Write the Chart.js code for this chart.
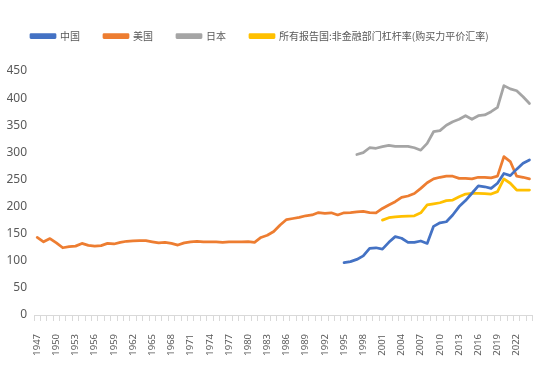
<!DOCTYPE html>
<html>
<head>
<meta charset="utf-8">
<script src="https://cdn.jsdelivr.net/npm/chart.js@4"></script>
<style>
  html, body { margin: 0; padding: 0; background: #fff; }
  #wrap { width: 554px; height: 366px; }
</style>
</head>
<body>
<div id="wrap"><canvas id="graphique"></canvas></div>
<script>
// Années 1947 à 2024
const annees = [];
for (let a = 1947; a <= 2024; a++) annees.push(String(a));

// Noms des séries (légende)
const nomsSeries = ["中国", "美国", "日本", "所有报告国:非金融部门杠杆率(购买力平价汇率)"];

// Etats-Unis, 1947-2024
const valeursUS = [
  143, 135, 141,                                        // 1947-1949
  133, 124, 126, 127, 132, 128.5, 127, 128, 132, 131,   // 1950-1959
  134, 136, 136.5, 137, 137, 135, 133, 134, 132, 129,   // 1960-1969
  133, 135, 136, 135, 135, 135, 134, 135, 135, 135,     // 1970-1979
  135.5, 134, 143, 147, 154, 166, 176, 178, 180, 183,   // 1980-1989
  184.5, 189, 187.5, 188.5, 184.5, 188.5, 189, 190, 191, 189, // 1990-1999
  188.5, 196.5, 203, 209, 217, 219.5, 224, 233.5, 244, 251,   // 2000-2009
  254, 256, 256, 252, 252, 251, 254, 254, 253, 256,     // 2010-2019
  292, 283, 256, 254, 251                               // 2020-2024
];

// Chine, à partir de 1995
const valeursChine = [
  96.5, 98.5, 102.5, 109, 123,                          // 1995-1999
  124, 121.5, 134, 144.5, 141.5, 134, 134, 136.5, 132, 163.5, // 2000-2009
  170, 172, 184.5, 200, 211, 224.5, 238, 236.5, 233.5, 243,   // 2010-2019
  261, 257, 269, 280, 286                               // 2020-2024
];

// Japon, à partir de 1997
const valeursJapon = [
  296, 299.5, 308.5,                                    // 1997-1999
  307.5, 310.5, 313, 311, 311, 311, 308.5, 304, 316.5, 338, // 2000-2009
  340, 350, 356.5, 361, 367.5, 361, 367.5, 369, 375, 383,   // 2010-2019
  423, 417, 413.5, 402.5, 390                           // 2020-2024
];

// Tous pays déclarants, à partir de 2001
const valeursTous = [
  175, 179.5, 181, 182, 182.5, 183, 188.5, 203, 205,    // 2001-2009
  207, 211, 212, 218, 223, 224.5, 224.5, 224, 223, 227.5, // 2010-2019
  251, 243, 230.5, 230.5, 230.5                         // 2020-2024
];

// Complète le début d'une série avec des valeurs nulles
function aligner(valeurs) {
  const vide = new Array(annees.length - valeurs.length).fill(null);
  return vide.concat(valeurs);
}

const couleurs = ["#4472C4", "#ED7D31", "#A5A5A5", "#FFC000"];
const series = [valeursChine, valeursUS, valeursJapon, valeursTous];

const datasets = [];
for (let i = 0; i < series.length; i++) {
  datasets.push({
    label: nomsSeries[i],
    data: aligner(series[i]),
    borderColor: couleurs[i],
    backgroundColor: couleurs[i],
    borderWidth: 2.75,
    pointRadius: 0,
    tension: 0,
    fill: false,
    borderJoinStyle: "round",
    borderCapStyle: "round",
  });
}

const policeCJK = "'Noto Sans CJK SC', 'Noto Sans', sans-serif";
const policeChiffres = "'Noto Sans', sans-serif";

// Agrandit la légende pour laisser de l'espace sous elle
const margeLegende = {
  id: "margeLegende",
  beforeInit(chart) {
    const fitOrigine = chart.legend.fit;
    chart.legend.fit = function fit() {
      fitOrigine.bind(chart.legend)();
      this.height = 64;
    };
  },
};

const config = {
  type: "line",
  data: { labels: annees, datasets: datasets },
  plugins: [margeLegende],
  options: {
    responsive: true,
    maintainAspectRatio: false,
    animation: false,
    layout: { padding: { left: 7, right: 21, top: 7, bottom: 0 } },
    plugins: {
      tooltip: { enabled: false },
      legend: {
        position: "top",
        align: "start",
        labels: {
          color: "#595959",
          font: { family: policeCJK, size: 10 },
          boxWidth: 24,
          boxHeight: 3,
          padding: 24,
        },
      },
    },
    scales: {
      x: {
        offset: true,
        afterFit(scale) { scale.height = 51; },
        grid: {
          display: true,
          drawOnChartArea: false,
          drawTicks: true,
          tickLength: 6,
          offset: true,
          color: "#D9D9D9",
        },
        border: { display: true, color: "#D9D9D9" },
        ticks: {
          autoSkip: false,
          maxRotation: 90,
          minRotation: 90,
          padding: 13,
          color: "#595959",
          font: { family: policeChiffres, size: 9.5 },
          callback: function (valeur, index) {
            return index % 3 === 0 ? this.getLabelForValue(valeur) : "";
          },
        },
      },
      y: {
        min: 0,
        max: 450,
        afterFit(scale) { scale.width = 27; },
        grid: { display: false, drawTicks: false },
        border: { display: false },
        ticks: {
          stepSize: 50,
          padding: 7,
          color: "#595959",
          font: { family: policeChiffres, size: 12 },
        },
      },
    },
  },
};

new Chart(document.querySelector("#graphique"), config);
</script>
</body>
</html>
